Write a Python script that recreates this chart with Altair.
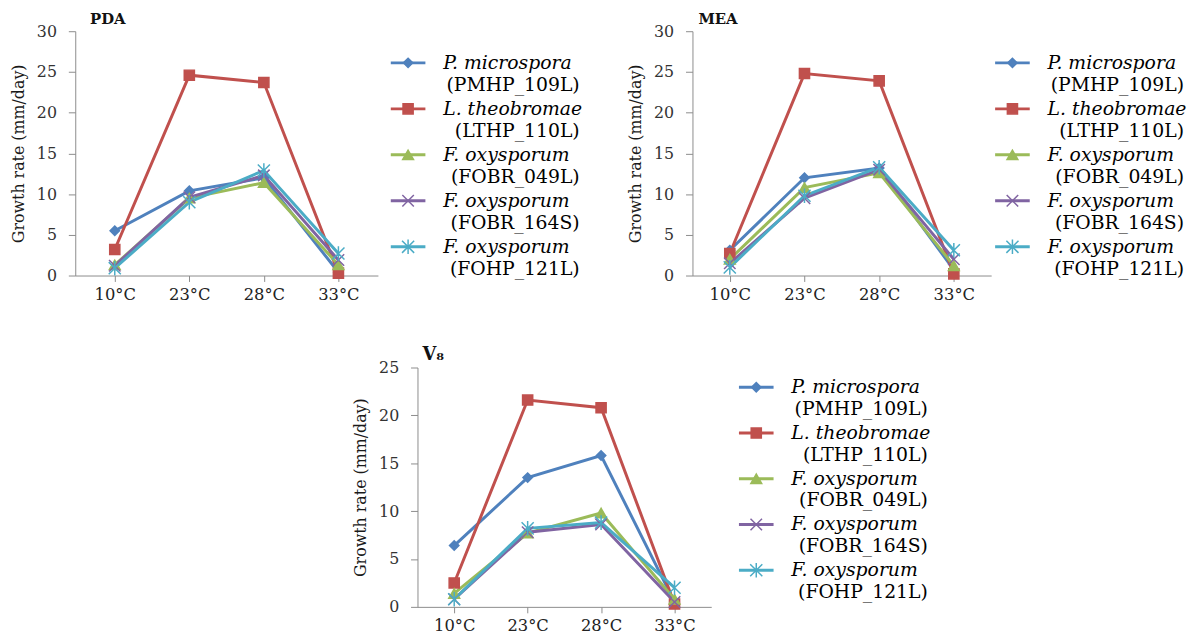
import altair as alt
import pandas as pd

temps = ["10°C", "23°C", "28°C", "33°C"]
species = ["P. microspora", "L. theobromae", "F. oxysporum", "F. oxysporum", "F. oxysporum"]
strains = ["(PMHP_109L)", "(LTHP_110L)", "(FOBR_049L)", "(FOBR_164S)", "(FOHP_121L)"]

pda_pmhp_109l = [5.5, 10.4, 12.0, 0.4]
pda_lthp_110l = [3.2, 24.6, 23.7, 0.3]
pda_fobr_049l = [1.3, 9.5, 11.4, 1.3]
pda_fobr_164s = [1.2, 9.6, 12.3, 1.9]
pda_fohp_121l = [0.9, 9.0, 12.9, 2.7]

mea_pmhp_109l = [3.1, 12.0, 13.2, 0.7]
mea_lthp_110l = [2.7, 24.8, 23.9, 0.2]
mea_fobr_049l = [2.0, 10.8, 12.6, 1.2]
mea_fobr_164s = [1.5, 9.5, 13.0, 2.0]
mea_fohp_121l = [1.0, 9.8, 13.3, 3.1]

v8_pmhp_109l = [6.4, 13.5, 15.8, 0.5]
v8_lthp_110l = [2.5, 21.6, 20.8, 0.3]
v8_fobr_049l = [1.4, 7.7, 9.8, 0.8]
v8_fobr_164s = [0.8, 7.8, 8.6, 0.5]
v8_fohp_121l = [0.8, 8.2, 8.8, 2.0]

colors = ["#4F81BD", "#C0504D", "#9BBB59", "#8064A2", "#4BACC6"]
shapes = ["diamond", "square", "triangle-up",
          "M-1,-1L1,1M-1,1L1,-1",
          "M-1,-1L1,1M-1,1L1,-1M0,-1.2L0,1.2"]
sizes = [90, 150, 110, 100, 110]

SERIF = "DejaVu Serif"
GRAY = "#8c8c8c"

color_enc = alt.Color("series:N", scale=alt.Scale(domain=strains, range=colors), legend=None)
stroke_enc = alt.Stroke("series:N", scale=alt.Scale(domain=strains, range=colors), legend=None)
shape_enc = alt.Shape("series:N", scale=alt.Scale(domain=strains, range=shapes), legend=None)
size_enc = alt.Size("series:N", scale=alt.Scale(domain=strains, range=sizes), legend=None)


def panel(title, series_values, ymax, width, height, pad, title_dx, title_size):
    rows = []
    for strain, vals in zip(strains, series_values):
        for t, v in zip(temps, vals):
            rows.append({"temp": t, "series": strain, "rate": v})
    df = pd.DataFrame(rows)
    x = alt.X("temp:O",
              scale=alt.Scale(type="point", domain=temps, padding=pad),
              axis=alt.Axis(title=None, labelAngle=0, domainColor=GRAY, tickColor=GRAY,
                            tickSize=6, labelPadding=5, labelFontSize=16.5,
                            labelColor="#222", labelFont=SERIF, grid=False))
    y = alt.Y("rate:Q",
              scale=alt.Scale(domain=[0, ymax], nice=False),
              axis=alt.Axis(values=list(range(0, ymax + 1, 5)), grid=False,
                            domainColor=GRAY, tickColor=GRAY, tickSize=7,
                            labelFont=SERIF, labelFontSize=16, labelColor="#333",
                            labelPadding=12, title="Growth rate (mm/day)",
                            titleFont=SERIF, titleFontSize=16, titleFontWeight="normal",
                            titleColor="#1a1a1a", titlePadding=10))
    base = alt.Chart(df).encode(x=x, y=y, color=color_enc)
    lines = base.mark_line(strokeWidth=3)
    pts = base.mark_point(filled=True, strokeWidth=1.5, opacity=1).encode(
        shape=shape_enc, size=size_enc, stroke=stroke_enc)
    return alt.layer(lines, pts).properties(
        width=width, height=height,
        title=alt.TitleParams(title, anchor="start", frame="group", font=SERIF,
                              fontSize=title_size, fontWeight="bold", color="#111",
                              dx=title_dx, offset=-4))


def legend_panel(height, yrange):
    df = pd.DataFrame({"series": strains, "species": species})
    y = alt.Y("series:N", scale=alt.Scale(type="point", domain=strains, range=yrange,
                                          padding=0), axis=None)
    base = alt.Chart(df).encode(y=y)
    rule = base.mark_rule(strokeWidth=3).encode(x=alt.value(2), x2=alt.value(37), color=color_enc)
    pts = base.mark_point(filled=True, strokeWidth=1.5, opacity=1).encode(
        x=alt.value(19.5), shape=shape_enc, size=size_enc, color=color_enc, stroke=stroke_enc)
    t1 = base.mark_text(align="left", baseline="middle", font=SERIF, fontStyle="italic",
                        fontSize=19, color="#000").encode(x=alt.value(55), text="species:N")
    t2 = base.mark_text(align="right", baseline="middle", font=SERIF, fontSize=19,
                        color="#000", dy=22).encode(x=alt.value(193), text="series:N")
    return alt.layer(rule, pts, t1, t2).properties(width=195, height=height)


pda = panel("PDA", [pda_pmhp_109l, pda_lthp_110l, pda_fobr_049l, pda_fobr_164s, pda_fohp_121l],
            30, 306, 247, 0.53, 15, 15)
mea = panel("MEA", [mea_pmhp_109l, mea_lthp_110l, mea_fobr_049l, mea_fobr_164s, mea_fohp_121l],
            30, 302, 247, 0.5, 6, 15)
v8 = panel("V₈", [v8_pmhp_109l, v8_lthp_110l, v8_fobr_049l, v8_fobr_164s, v8_fohp_121l],
           25, 297, 242, 0.5, 5, 18)

leg_pda = legend_panel(247, [32, 218])
leg_mea = legend_panel(247, [32, 218])
leg_v8 = legend_panel(242, [20, 205])

spacer = alt.Chart(pd.DataFrame({"v": [0]})).mark_point(opacity=0).encode(
    x=alt.value(0), y=alt.value(0)).properties(width=255, height=10)

top = alt.hconcat(alt.hconcat(pda, leg_pda, spacing=9),
                  alt.hconcat(mea, leg_mea, spacing=0), spacing=44)
bottom = alt.hconcat(spacer, v8, leg_v8, spacing=24)

chart = alt.vconcat(top, bottom, spacing=42).properties(
    padding={"left": 2, "top": 0, "right": 0, "bottom": 0},
    background="white"
).configure_view(stroke="transparent")

chart.save("out.html", embed_options={"renderer": "svg", "actions": False})
